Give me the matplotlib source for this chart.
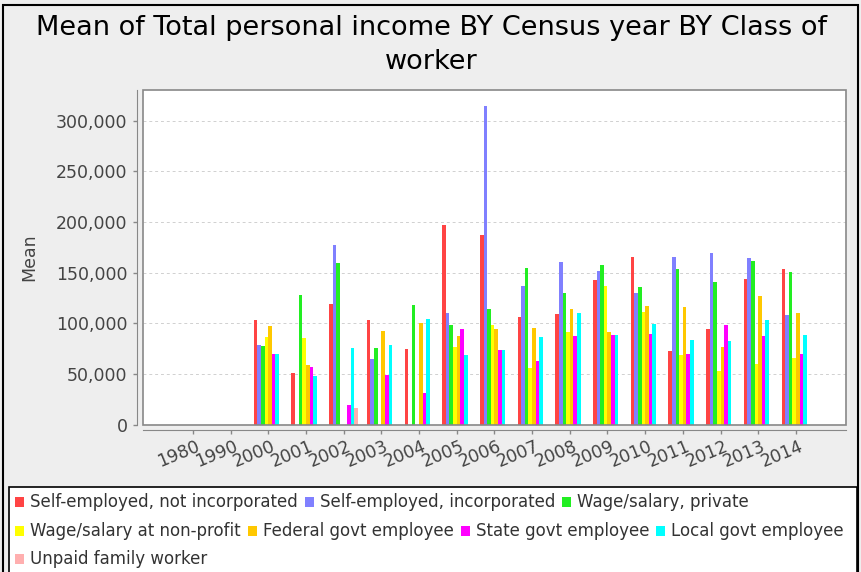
import numpy as np
import matplotlib
matplotlib.use("Agg")
import matplotlib.pyplot as plt
from matplotlib.patches import Rectangle

nan = np.nan

# --- data ---
years = ["1980", "1990", "2000", "2001", "2002", "2003", "2004", "2005", "2006",
         "2007", "2008", "2009", "2010", "2011", "2012", "2013", "2014"]

self_emp_not_inc = [nan, nan, 103100, 50400, 118600, 103100, 74100, 196600, 187000,
                    105700, 109300, 142300, 165600, 72400, 93900, 143300, 153200]
self_emp_inc = [nan, nan, 78400, nan, 176800, 64200, nan, 109700, 314500,
                137000, 160700, 151200, 129700, 165600, 169000, 164300, 107700]
wage_private = [nan, nan, 77400, 127800, 159700, 76000, 117900, 98400, 113900,
                154800, 129400, 157400, 135400, 153500, 140600, 161400, 150800]
wage_nonprofit = [nan, nan, 86600, 85600, nan, nan, nan, 76700, 98100,
                  55900, 91500, 136700, 111300, 68500, 52700, 59300, 65800]
federal_govt = [nan, nan, 97400, 58300, nan, 92500, 99800, 87300, 93900,
                95200, 113900, 91200, 116900, 115600, 76700, 127100, 110300]
state_govt = [nan, nan, 70100, 56600, 18800, 48700, 31200, 94200, 73400,
              62900, 87600, 88600, 88900, 70100, 98400, 87300, 70100]
local_govt = [nan, nan, 70100, 47700, 76000, 78400, 104000, 68200, 73200,
              86300, 109700, 87900, 98800, 83300, 82300, 103100, 88200]
unpaid_family = [nan, nan, nan, nan, 16100, nan, nan, nan, nan,
                 nan, nan, nan, nan, nan, nan, nan, nan]

series_names = ["Self-employed, not incorporated", "Self-employed, incorporated",
                "Wage/salary, private", "Wage/salary at non-profit",
                "Federal govt employee", "State govt employee",
                "Local govt employee", "Unpaid family worker"]
series_values = [self_emp_not_inc, self_emp_inc, wage_private, wage_nonprofit,
                 federal_govt, state_govt, local_govt, unpaid_family]
colors = ["#FF4444", "#8080FF", "#22EE22", "#FFFF00",
          "#FFC800", "#FF00FF", "#00FFFF", "#FFAFAF"]

W, H = 861, 572


def fx(px):
    return px / W


def fy(py):
    return 1 - py / H


fig = plt.figure(figsize=(W / 100, H / 100), dpi=100, facecolor="#EEEEEE")

# outer frame
fig.patches.append(Rectangle((fx(2.5), fy(575)), fx(858) - fx(2.5), fy(5) - fy(575),
                             transform=fig.transFigure, fill=False,
                             edgecolor="black", linewidth=1.5))

# title
fig.text(fx(431), fy(15), "Mean of Total personal income BY Census year BY Class of\nworker",
         ha="center", va="top", fontsize=19.5, linespacing=1.42, color="black")

# --- plot area ---
ax = fig.add_axes([fx(143.3), fy(424.5), fx(845.5) - fx(143.3), fy(90) - fy(424.5)])
ax.set_facecolor("white")

x = np.arange(len(years))
bw = 0.0958
for i, (vals, c) in enumerate(zip(series_values, colors)):
    ax.bar(x + (i - 3.5) * bw, vals, width=bw, color=c, edgecolor="none", zorder=2)

ax.set_xlim(-1.314, len(years) - 1 + 1.314)
ax.set_ylim(0, 330300)

yticks = np.arange(0, 300001, 50000)
ax.set_yticks(yticks)
ax.set_yticklabels([f"{v:,}" for v in yticks])
for v in yticks[1:]:
    ax.axhline(v, color="#D0D0D0", linewidth=0.7, linestyle=(0, (3, 3)), zorder=1)

ax.set_xticks(x)
ax.set_xticklabels([])

for s in ["top", "right"]:
    ax.spines[s].set_visible(False)
ax.spines["left"].set_position(("outward", 4.3))
ax.spines["bottom"].set_position(("outward", 4.3))
ax.spines["left"].set_color("#888888")
ax.spines["bottom"].set_color("#888888")
ax.add_patch(Rectangle((0, 0), 1, 1, transform=ax.transAxes, fill=False,
                       edgecolor="#888888", linewidth=1.2, zorder=5, clip_on=False))

ax.tick_params(axis="y", direction="out", length=3, width=1, color="#888888",
               labelcolor="#444444", labelsize=12.5, pad=4)
ax.tick_params(axis="x", direction="out", length=3, width=1, color="#888888")

ax.set_ylabel("Mean", fontsize=12.5, color="#444444")
ax.yaxis.set_label_coords((38 - 143.3) / (845.5 - 143.3), 0.5)

# rotated category labels
for xi, lab in zip(x, years):
    ax.annotate(lab, xy=(xi, 0), xycoords=("data", "axes fraction"),
                xytext=(3, -13), textcoords="offset pixels",
                rotation=22.5, rotation_mode="anchor", ha="right", va="top",
                fontsize=12.5, color="#444444", annotation_clip=False)

# --- legend box (items flow left to right, like the reference) ---
fig.patches.append(Rectangle((fx(8.5), fy(580)), fx(857) - fx(8.5), fy(486.5) - fy(580),
                             transform=fig.transFigure, facecolor="white",
                             edgecolor="black", linewidth=1.2))
renderer = fig.canvas.get_renderer()
legend_rows = [(502, [0, 1, 2]), (531, [3, 4, 5, 6]), (559, [7])]
for row_y, items in legend_rows:
    cur = 15
    for idx in items:
        fig.patches.append(Rectangle((fx(cur), fy(row_y + 5)), fx(9), fy(0) - fy(10),
                                     transform=fig.transFigure, facecolor=colors[idx],
                                     edgecolor="none"))
        t = fig.text(fx(cur + 15), fy(row_y), series_names[idx], ha="left", va="center",
                     fontsize=12, color="#333333")
        cur = t.get_window_extent(renderer).x1 + 7

fig.savefig("out.png", dpi=100, facecolor=fig.get_facecolor())
